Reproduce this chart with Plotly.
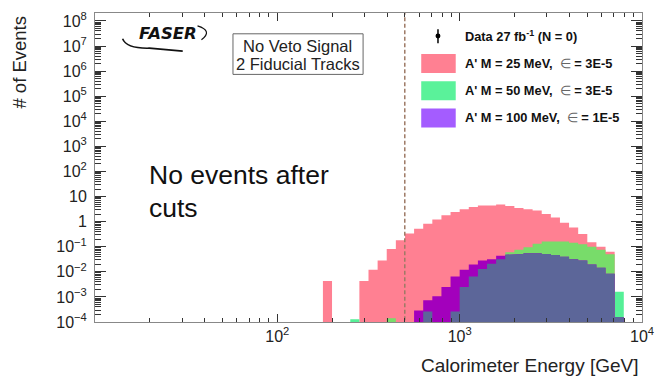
import numpy as np
import plotly.graph_objects as go

# Binning: 0.05 decades per bin, from 10^2.25 GeV to 10^3.90 GeV
log_lo, log_hi, n_bins = 2.25, 3.90, 33
bin_edges = np.logspace(log_lo, log_hi, n_bins + 1)

# Expected events per bin (bins in ascending energy order)
signal_25mev = [4.3e-3, 0, 0, 0, 4.3e-3, 1.2e-2, 2.8e-2, 8.1e-2, 0.18, 0.34,
                0.52, 0.83, 1.23, 1.8, 2.4, 3.1, 3.8, 4.4, 4.4, 4.8,
                4.2, 3.5, 3.1, 2.8, 2.0, 1.45, 0.91, 0.58, 0.32, 0.15,
                0.10, 0.063, 0]
signal_50mev = [0, 0, 0, 1.3e-4, 0, 0, 0, 1.4e-4, 0, 0,
                0, 2.6e-4, 0, 0, 2.6e-4, 2.5e-3, 6.5e-3, 1.3e-2, 2.1e-2, 3.2e-2,
                6.0e-2, 7.5e-2, 0.095, 0.13, 0.16, 0.17, 0.16, 0.145, 0.125, 0.10,
                0.075, 0.05, 1.6e-3]
signal_100mev = [0, 0, 0, 0, 0, 0, 0, 0, 0, 0,
                 2.9e-4, 7.4e-4, 1.07e-3, 2.5e-3, 6.5e-3, 1.2e-2, 1.95e-2, 2.8e-2, 3.2e-2, 4.4e-2,
                 4.8e-2, 5.1e-2, 5.5e-2, 5.5e-2, 5.1e-2, 4.7e-2, 4.0e-2, 3.2e-2, 2.8e-2, 1.95e-2,
                 1.45e-2, 8.3e-3, 1.6e-4]

energy_cut_gev = 500

y_tick_vals = [10.0 ** k for k in range(-4, 9)]
y_tick_text = ["10<sup>\u22124</sup>", "10<sup>\u22123</sup>", "10<sup>\u22122</sup>",
               "10<sup>\u22121</sup>", "1", "10", "10<sup>2</sup>", "10<sup>3</sup>",
               "10<sup>4</sup>", "10<sup>5</sup>", "10<sup>6</sup>", "10<sup>7</sup>",
               "10<sup>8</sup>"]
x_tick_vals = [1e2, 1e3, 1e4]
x_tick_text = ["10<sup>2</sup>", "10<sup>3</sup>", "10<sup>4</sup>"]

EPS = "<span style='font-weight:normal;color:#666'>\u2208</span>"
legend_labels = ["Data 27 fb<sup>-1</sup> (N = 0)",
                 f"A' M = 25 MeV,\u00a0 {EPS} = 3E-5",
                 f"A' M = 50 MeV,\u00a0 {EPS} = 3E-5",
                 f"A' M = 100 MeV,\u00a0 {EPS} = 1E-5"]

PINK = "#FF8092"
GREEN_ON_PINK = "#78DC6A"
MINT = "#55F097"
MAGENTA = "#A300BC"
SLATE = "#5C6699"
LEG_GREEN = "#5AF29A"
LEG_PURPLE = "#A45CFF"
FONT = "Liberation Sans, Arial, sans-serif"
FLOOR = 1e-7


def step_polygon(values):
    """Closed outline of a histogram, dropping to below the axis for empty bins."""
    xs, ys = [bin_edges[0]], [FLOOR]
    for i, v in enumerate(values):
        y = v if v > 0 else FLOOR
        xs += [bin_edges[i], bin_edges[i + 1]]
        ys += [y, y]
    xs.append(bin_edges[-1])
    ys.append(FLOOR)
    return xs, ys


s25 = np.array(signal_25mev, dtype=float)
s50 = np.array(signal_50mev, dtype=float)
s100 = np.array(signal_100mev, dtype=float)

fig = go.Figure()


def add_hist(values, color, name):
    xs, ys = step_polygon(values)
    fig.add_trace(go.Scatter(x=xs, y=ys, mode="lines", fill="toself",
                             fillcolor=color, line=dict(width=0, color=color),
                             name=name, hoverinfo="skip"))


add_hist(s25, PINK, "A' M = 25 MeV")
add_hist(np.where(s25 > 0, s50, 0), GREEN_ON_PINK, "A' M = 50 MeV")
add_hist(np.where(s25 > 0, 0, s50), MINT, "A' M = 50 MeV (no overlap)")
add_hist(s100, MAGENTA, "A' M = 100 MeV")
add_hist(np.minimum(s50, s100), SLATE, "A' M = 50/100 MeV overlap")

# Energy cut
fig.add_trace(go.Scatter(x=[energy_cut_gev, energy_cut_gev], y=[1e-6, 1e10], mode="lines",
                         line=dict(color="#9E7A66", width=1.5, dash="4px,2.5px"),
                         hoverinfo="skip", name="cut"))

# Plot frame in pixels
L, R, T, B = 95, 650, 10, 322


def px(x):
    return (x - L) / (R - L)


def py(y):
    return (B - y) / (B - T)


shapes = []
annotations = []


def label(x, y, text, size, xanchor="center", yanchor="middle", color="#222", **kw):
    annotations.append(dict(xref="paper", yref="paper", x=px(x), y=py(y), text=text,
                            showarrow=False, font=dict(family=FONT, size=size, color=color),
                            xanchor=xanchor, yanchor=yanchor, borderpad=0, **kw))


# Selection box
shapes.append(dict(type="rect", xref="paper", yref="paper", x0=px(235), x1=px(367),
                   y0=py(72), y1=py(31), line=dict(color="#666", width=1),
                   fillcolor="rgba(0,0,0,0)"))
label(300.5, 43, "No Veto Signal", 16.5)
label(300.5, 62, "2 Fiducial Tracks", 16.5)

# Logo
annotations.append(dict(xref="paper", yref="paper", x=px(169), y=py(31),
                        text="<b><i>FASER</i></b>", showarrow=False,
                        font=dict(family="DejaVu Sans", size=16.5, color="#111"),
                        xanchor="center", yanchor="middle"))

swoosh = "M {:.5f},{:.5f} Q {:.5f},{:.5f} {:.5f},{:.5f} L {:.5f},{:.5f}".format(
    px(123), py(36), px(127), py(46), px(150), py(45.5), px(184), py(48.5))
shapes.append(dict(type="path", xref="paper", yref="paper", path=swoosh,
                   line=dict(color="#111", width=1.6)))
swoosh2 = "M {:.5f},{:.5f} Q {:.5f},{:.5f} {:.5f},{:.5f}".format(
    px(199), py(23), px(215), py(28), px(203), py(37))
shapes.append(dict(type="path", xref="paper", yref="paper", path=swoosh2,
                   line=dict(color="#111", width=1.2)))

# Legend
shapes.append(dict(type="line", xref="paper", yref="paper", x0=px(443), x1=px(443),
                   y0=py(26.5), y1=py(40.5), line=dict(color="black", width=1.5)))
shapes.append(dict(type="circle", xref="paper", yref="paper", x0=px(440.5), x1=px(445.5),
                   y0=py(35.8), y1=py(30.8), fillcolor="black", line=dict(color="black", width=0)))
leg_rows_y = [33, 61, 88.5, 116]
leg_colors = [None, PINK, LEG_GREEN, LEG_PURPLE]
for yc, col, lab in zip(leg_rows_y, leg_colors, legend_labels):
    if col is not None:
        shapes.append(dict(type="rect", xref="paper", yref="paper", x0=px(426), x1=px(461),
                           y0=py(yc + 9.5), y1=py(yc - 9.5), fillcolor=col,
                           line=dict(width=0)))
    label(469, yc, f"<b>{lab}</b>", 12.8, xanchor="left", color="#111")

# Statement
label(149, 174, "No events after", 26.5, xanchor="left", color="#111")
label(149, 207, "cuts", 26.5, xanchor="left", color="#111")

# Axis titles
label(18, 12, "# of Events", 18.5, yanchor="top", textangle=-90)
label(648, 366, "Calorimeter Energy [GeV]", 19, xanchor="right")

x_minor = [m * 10.0 ** k for k in range(1, 4) for m in range(2, 10)]
y_minor = [m * 10.0 ** k for k in range(-4, 8) for m in range(2, 10)]

fig.update_layout(
    width=664, height=377,
    margin=dict(l=L, r=664 - R, t=T, b=377 - B),
    paper_bgcolor="white", plot_bgcolor="white",
    showlegend=False,
    shapes=shapes, annotations=annotations,
    xaxis=dict(type="log", range=[1, 4], showgrid=False, zeroline=False,
               showline=True, linecolor="#888", linewidth=1, mirror="ticks",
               ticks="inside", ticklen=8, tickcolor="#333", tickwidth=1,
               tickmode="array", tickvals=x_tick_vals, ticktext=x_tick_text,
               tickfont=dict(family=FONT, size=16, color="#222"),
               minor=dict(tickmode="array", tickvals=x_minor, ticks="inside",
                          ticklen=4, tickcolor="#333", showgrid=False)),
    yaxis=dict(type="log", range=[-4, 8.316], showgrid=False, zeroline=False,
               showline=True, linecolor="#888", linewidth=1, mirror="ticks",
               ticks="inside", ticklen=11, tickcolor="#333", tickwidth=1,
               tickmode="array", tickvals=y_tick_vals, ticktext=y_tick_text,
               tickfont=dict(family=FONT, size=16, color="#222"),
               ticklabelstandoff=4,
               minor=dict(tickmode="array", tickvals=y_minor, ticks="inside",
                          ticklen=6, tickcolor="#333", showgrid=False)),
)

fig.write_html("out.html")
